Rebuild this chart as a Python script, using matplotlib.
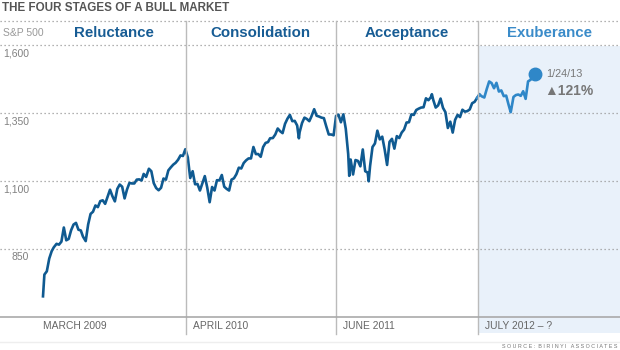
import matplotlib
matplotlib.use("Agg")
import matplotlib.pyplot as plt
import matplotlib.dates as mdates
import numpy as np
import pandas as pd
from matplotlib.lines import Line2D

plt.rcParams['font.family'] = ['Liberation Sans', 'DejaVu Sans']

# S&P 500 closes, roughly weekly
dates = [
    '2009-03-09', '2009-03-13', '2009-03-20', '2009-03-27', '2009-04-03', '2009-04-09', '2009-04-17', '2009-04-24',
    '2009-05-01', '2009-05-08', '2009-05-15', '2009-05-22', '2009-05-29', '2009-06-05', '2009-06-12', '2009-06-19',
    '2009-06-26', '2009-07-02', '2009-07-10', '2009-07-17', '2009-07-24', '2009-07-31', '2009-08-07', '2009-08-14',
    '2009-08-21', '2009-08-28', '2009-09-04', '2009-09-11', '2009-09-18', '2009-09-25', '2009-10-02', '2009-10-09',
    '2009-10-16', '2009-10-23', '2009-10-30', '2009-11-06', '2009-11-13', '2009-11-20', '2009-11-27', '2009-12-04',
    '2009-12-11', '2009-12-18', '2009-12-24', '2009-12-31',
    '2010-01-08', '2010-01-15', '2010-01-22', '2010-01-29', '2010-02-05', '2010-02-12', '2010-02-19', '2010-02-26',
    '2010-03-05', '2010-03-12', '2010-03-19', '2010-03-26', '2010-04-02', '2010-04-09', '2010-04-16', '2010-04-23',
    '2010-04-30', '2010-05-07', '2010-05-14', '2010-05-21', '2010-05-28', '2010-06-04', '2010-06-11', '2010-06-18',
    '2010-06-25', '2010-07-02', '2010-07-09', '2010-07-16', '2010-07-23', '2010-07-30', '2010-08-06', '2010-08-13',
    '2010-08-20', '2010-08-27', '2010-09-03', '2010-09-10', '2010-09-17', '2010-09-24', '2010-10-01', '2010-10-08',
    '2010-10-15', '2010-10-22', '2010-10-29', '2010-11-05', '2010-11-12', '2010-11-19', '2010-11-26', '2010-12-03',
    '2010-12-10', '2010-12-17', '2010-12-23', '2010-12-31',
    '2011-01-07', '2011-01-14', '2011-01-21', '2011-01-28', '2011-02-04', '2011-02-11', '2011-02-18', '2011-02-25',
    '2011-03-04', '2011-03-11', '2011-03-16', '2011-03-18', '2011-03-25', '2011-04-01', '2011-04-08', '2011-04-15',
    '2011-04-21', '2011-04-29', '2011-05-06', '2011-05-13', '2011-05-20', '2011-05-27', '2011-06-03', '2011-06-10',
    '2011-06-17', '2011-06-24', '2011-07-01', '2011-07-08', '2011-07-15', '2011-07-22', '2011-07-29', '2011-08-05',
    '2011-08-08', '2011-08-12', '2011-08-19', '2011-08-26', '2011-09-02', '2011-09-09', '2011-09-16', '2011-09-23',
    '2011-09-30', '2011-10-03', '2011-10-07', '2011-10-14', '2011-10-21', '2011-10-28', '2011-11-04', '2011-11-11',
    '2011-11-18', '2011-11-25', '2011-12-02', '2011-12-09', '2011-12-16', '2011-12-23', '2011-12-30',
    '2012-01-06', '2012-01-13', '2012-01-20', '2012-01-27', '2012-02-03', '2012-02-10', '2012-02-17', '2012-02-24',
    '2012-03-02', '2012-03-09', '2012-03-16', '2012-03-23', '2012-03-30', '2012-04-02', '2012-04-06', '2012-04-13',
    '2012-04-20', '2012-04-27', '2012-05-04', '2012-05-11', '2012-05-18', '2012-05-25', '2012-06-01', '2012-06-08',
    '2012-06-15', '2012-06-22', '2012-06-29', '2012-07-06', '2012-07-13', '2012-07-20', '2012-07-27', '2012-08-03',
    '2012-08-10', '2012-08-17', '2012-08-24', '2012-08-31', '2012-09-07', '2012-09-14', '2012-09-21', '2012-09-28',
    '2012-10-05', '2012-10-12', '2012-10-19', '2012-10-26', '2012-11-02', '2012-11-09', '2012-11-15', '2012-11-16',
    '2012-11-23', '2012-11-30', '2012-12-07', '2012-12-14', '2012-12-21', '2012-12-28',
    '2013-01-04', '2013-01-11', '2013-01-18', '2013-01-24',
]
closes = [
    676, 756, 768, 815, 842, 856, 869, 866,
    877, 929, 882, 887, 919, 940, 946, 921,
    918, 896, 879, 940, 979, 987, 1010, 1004,
    1026, 1029, 1016, 1042, 1068, 1044, 1025, 1071,
    1087, 1079, 1036, 1069, 1093, 1091, 1091, 1105,
    1106, 1102, 1126, 1115,
    1145, 1136, 1092, 1074, 1066, 1075, 1109, 1105,
    1139, 1150, 1160, 1167, 1178, 1194, 1192, 1217,
    1187, 1111, 1136, 1088, 1089, 1065, 1092, 1118,
    1076, 1022, 1078, 1065, 1103, 1102, 1122, 1079,
    1071, 1065, 1105, 1110, 1125, 1149, 1146, 1166,
    1176, 1183, 1183, 1225, 1199, 1199, 1189, 1225,
    1240, 1243, 1257, 1258,
    1271, 1293, 1283, 1276, 1310, 1329, 1343, 1320,
    1321, 1304, 1257, 1279, 1313, 1333, 1328, 1320,
    1337, 1364, 1340, 1337, 1333, 1331, 1300, 1271,
    1271, 1268, 1339, 1344, 1316, 1345, 1292, 1199,
    1119, 1179, 1124, 1177, 1174, 1154, 1216, 1136,
    1131, 1099, 1155, 1225, 1238, 1285, 1253, 1263,
    1216, 1159, 1244, 1255, 1219, 1265, 1258,
    1278, 1289, 1315, 1316, 1345, 1343, 1361, 1366,
    1370, 1371, 1404, 1397, 1408, 1419, 1398, 1370,
    1378, 1403, 1369, 1353, 1295, 1318, 1278, 1325,
    1343, 1335, 1362, 1355, 1357, 1363, 1386, 1391,
    1405, 1418, 1411, 1407, 1438, 1466, 1460, 1441,
    1461, 1429, 1433, 1412, 1414, 1380, 1353, 1359,
    1409, 1416, 1418, 1413, 1430, 1402,
    1466, 1472, 1485, 1494,
]

stage_names = ['Reluctance', 'Consolidation', 'Acceptance', 'Exuberance']
stage_starts = ['2009-03-09', '2010-04-24', '2011-06-30', '2012-08-13']
stage_labels = ['MARCH 2009', 'APRIL 2010', 'JUNE 2011', 'JULY 2012 \u2013 ?']
y_ticks = [850, 1100, 1350, 1600]

W, H = 620, 350
fig = plt.figure(figsize=(W / 100, H / 100), dpi=100)
ax = fig.add_axes([0, 0, 1, 1])
ax.set_axis_off()

s = pd.Series(closes, index=pd.to_datetime(dates))
t0 = mdates.date2num(pd.Timestamp(dates[0]))
x_end = mdates.date2num(pd.Timestamp(dates[-1]))
px_per_day = (535 - 43) / (x_end - t0)
xmin = t0 - 43 / px_per_day
xmax = t0 + (W - 43) / px_per_day
# 850 at y=249px, 1600 at y=45px
px_per_pt = (249 - 45) / 750
ymax = 850 + 249 / px_per_pt
ymin = 850 - (H - 249) / px_per_pt
ax.set_xlim(xmin, xmax)
ax.set_ylim(ymin, ymax)


def fy(py):
    return 1 - py / H


def fx(px):
    return px / W


bounds = [mdates.date2num(pd.Timestamp(d)) for d in stage_starts]
last = bounds[-1]

# shaded exuberance stage
ax.axvspan(last, xmax, ymin=fy(333), ymax=fy(45.5), color='#e9f1fa', lw=0, zorder=0)

# dotted grid
grid_kw = dict(color='#999999', lw=0.9, linestyle=(0, (1, 2.2)))
fig.add_artist(Line2D([0, 1], [fy(20.5), fy(20.5)], **grid_kw))
for v in y_ticks:
    ax.axhline(v, **grid_kw, zorder=1)
    ax.text(xmin + 29 / px_per_day, v - 3 / px_per_pt, f'{v:,}', ha='right', va='top',
            fontsize=7.5, color='#808080')
fig.text(fx(3), fy(33), 'S&P 500', ha='left', va='center', fontsize=7.5, color='#999999')

# stage separators
for b in bounds[1:]:
    fig.add_artist(Line2D([fx(ax.transData.transform((b, 0))[0]), ] * 2, [fy(20.5), fy(334)],
                          color='#bbbbbb', lw=1.0))

# bottom axis line
fig.add_artist(Line2D([0, 1], [fy(317), fy(317)], color='#aaaaaa', lw=1.2))
fig.add_artist(Line2D([0, 1], [fy(342), fy(342)], color='#eeeeee', lw=1.0))

# stage titles and bottom labels
edges = bounds[1:] + [xmax]
for i, name in enumerate(stage_names):
    left = bounds[i]
    cx = (left + edges[i]) / 2
    col = '#3a8bc9' if i == 3 else '#175c94'
    ax.text(cx, 850 + (249 - 33) / px_per_pt, name, ha='center', va='center',
            fontsize=10.8, fontweight='bold', color=col)
    off = 0 if i == 0 else 7
    ax.text(left + off / px_per_day, 850 - (326 - 249) / px_per_pt, stage_labels[i],
            ha='left', va='center', fontsize=7.4, color='#666666')

# index line, two colours
pre = s[s.index <= pd.Timestamp(stage_starts[-1]) + pd.Timedelta(days=5)]
post = s[s.index >= pd.Timestamp(stage_starts[-1]) - pd.Timedelta(days=5)]
ax.plot(pre.index, pre.values, color='#0f5a91', lw=1.9, zorder=3, solid_joinstyle='round')
ax.plot(post.index, post.values, color='#2f87c8', lw=1.9, zorder=3, solid_joinstyle='round')
ax.plot([s.index[-1]], [s.values[-1]], 'o', color='#2f87c8', ms=9, zorder=4)

gain = (closes[-1] / closes[0] - 1) * 100
fig.text(fx(546), fy(74), '1/24/13', ha='left', va='center', fontsize=7.8, color='#777777')
fig.text(fx(544), fy(91), f'\u25b2{gain:.0f}%', ha='left', va='center', fontsize=10,
         fontweight='bold', color='#777777', family=['Liberation Sans', 'DejaVu Sans'])

fig.text(fx(2), fy(8), 'THE FOUR STAGES OF A BULL MARKET', ha='left', va='center',
         fontsize=8.4, fontweight='bold', color='#555555')
fig.text(fx(617), fy(346.5), 'S O U R C E :  B I R I N Y I   A S S O C I A T E S', ha='right', va='center',
         fontsize=3.9, color='#777777')

fig.savefig('out.png', dpi=100)
